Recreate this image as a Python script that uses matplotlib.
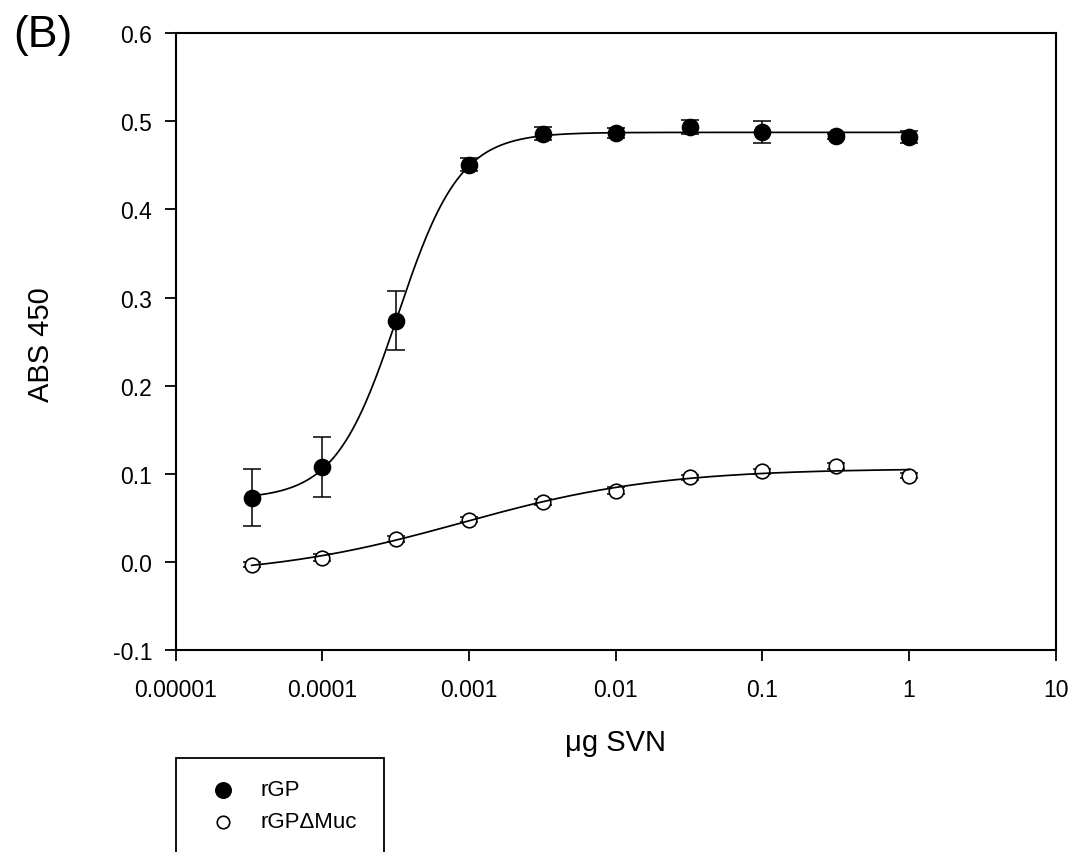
import numpy as np
import matplotlib
matplotlib.use("Agg")
import matplotlib.pyplot as plt
from matplotlib.patches import Rectangle
from matplotlib.lines import Line2D

plt.rcParams['font.family'] = ['Liberation Sans', 'DejaVu Sans']

# SVN amount (µg), half-log dilution series
svn_ug = [3.3e-5, 1e-4, 3.2e-4, 1e-3, 3.2e-3, 1e-2, 3.2e-2, 0.1, 0.32, 1.0]

# rGP absorbance and SEM
rgp_abs = [0.073, 0.108, 0.274, 0.451, 0.486, 0.487, 0.494, 0.488, 0.483, 0.482]
rgp_err = [0.032, 0.034, 0.033, 0.007, 0.0075, 0.006, 0.008, 0.0127, 0.003, 0.0068]

# rGPΔMuc absorbance and SEM
muc_abs = [-0.003, 0.005, 0.026, 0.048, 0.068, 0.081, 0.096, 0.103, 0.109, 0.098]
muc_err = [0.003, 0.004, 0.003, 0.003, 0.003, 0.004, 0.003, 0.003, 0.003, 0.003]

x_ticks = [1e-5, 1e-4, 1e-3, 1e-2, 1e-1, 1, 10]
x_tick_labels = ["0.00001", "0.0001", "0.001", "0.01", "0.1", "1", "10"]
y_ticks = [-0.1, 0.0, 0.1, 0.2, 0.3, 0.4, 0.5, 0.6]
y_tick_labels = ["-0.1", "0.0", "0.1", "0.2", "0.3", "0.4", "0.5", "0.6"]


def logistic4(u, p):
    bottom, top, log_ec50, hill = p
    return bottom + (top - bottom) / (1.0 + 10.0 ** ((log_ec50 - u) * hill))


def fit_logistic4(x, y):
    """Four-parameter logistic fit on log10(x) with Levenberg-Marquardt."""
    u = np.log10(np.asarray(x, float))
    y = np.asarray(y, float)
    mid = 0.5 * (y.min() + y.max())
    p = np.array([y.min(), y.max(), u[np.argmin(np.abs(y - mid))], 1.0])
    lam = 1e-3
    sse = np.sum((y - logistic4(u, p)) ** 2)
    for _ in range(2000):
        r = y - logistic4(u, p)
        J = np.empty((u.size, 4))
        for k in range(4):
            dp = np.zeros(4)
            dp[k] = 1e-6 * max(1.0, abs(p[k]))
            J[:, k] = (logistic4(u, p + dp) - logistic4(u, p - dp)) / (2 * dp[k])
        A = J.T @ J
        g = J.T @ r
        step = np.linalg.solve(A + lam * np.diag(np.diag(A) + 1e-12), g)
        p_new = p + step
        sse_new = np.sum((y - logistic4(u, p_new)) ** 2)
        if sse_new < sse:
            p, sse = p_new, sse_new
            lam = max(lam / 10, 1e-12)
            if np.max(np.abs(step)) < 1e-10:
                break
        else:
            lam *= 10
            if lam > 1e12:
                break
    return p


W, H = 1073.0, 853.0
fig = plt.figure(figsize=(W / 100, H / 100), dpi=100)
ax = fig.add_axes([0.1637, 0.2368, 0.8202, 0.7230])

u_fine = np.linspace(np.log10(min(svn_ug)), np.log10(max(svn_ug)), 400)

for yv, ev, face, ms in [(rgp_abs, rgp_err, 'black', 11.5),
                          (muc_abs, muc_err, 'white', 10.5)]:
    params = fit_logistic4(svn_ug, yv)
    ax.errorbar(svn_ug, yv, yerr=ev, fmt='none', ecolor='black',
                elinewidth=1.1, capsize=6.5, capthick=1.1, zorder=2)
    ax.plot(svn_ug, yv, linestyle='none', marker='o', markersize=ms,
            markerfacecolor=face, markeredgecolor='black',
            markeredgewidth=1.2, zorder=3)
    ax.plot(10 ** u_fine, logistic4(u_fine, params), color='black',
            linewidth=1.25, zorder=4)

ax.set_xscale('log')
ax.set_xlim(1e-5, 10)
ax.set_ylim(-0.1, 0.6)
ax.set_xticks(x_ticks)
ax.set_xticklabels(x_tick_labels)
ax.xaxis.set_minor_locator(matplotlib.ticker.NullLocator())
ax.set_yticks(y_ticks)
ax.set_yticklabels(y_tick_labels)

for s in ax.spines.values():
    s.set_linewidth(1.5)
ax.tick_params(axis='both', which='major', direction='out', length=8,
               width=1.3, labelsize=16.5, color='black')
ax.tick_params(axis='x', pad=12)
ax.tick_params(axis='y', pad=9)

ax.set_xlabel("\u03bcg SVN", fontsize=21, va='center')
ax.xaxis.set_label_coords(0.5, (H - 743 - 202) / (0.7230 * H))
ax.set_ylabel("ABS 450", fontsize=21, va='center')
ax.yaxis.set_label_coords((41.5 - 175.7) / 880.0, 0.497)

fig.text(13 / W, 1 - 36 / H, "(B)", fontsize=32, ha='left', va='center')

# Legend box running off the bottom edge of the figure
fig.patches.append(Rectangle((176 / W, -0.05), (384 - 176) / W, 0.05 + (H - 759) / H,
                             transform=fig.transFigure, fill=False,
                             edgecolor='black', linewidth=1.3, clip_on=False))
for yy, face, ms, label in [(791, 'black', 11, "rGP"),
                            (823, 'white', 9, "rGP\u0394Muc")]:
    fig.add_artist(Line2D([223 / W], [1 - yy / H], transform=fig.transFigure,
                          marker='o', markersize=ms, markerfacecolor=face,
                          markeredgecolor='black', markeredgewidth=1.2,
                          linestyle='none'))
    fig.text(260 / W, 1 - yy / H, label, fontsize=16, ha='left', va='center')

fig.savefig("out.png", dpi=100)
